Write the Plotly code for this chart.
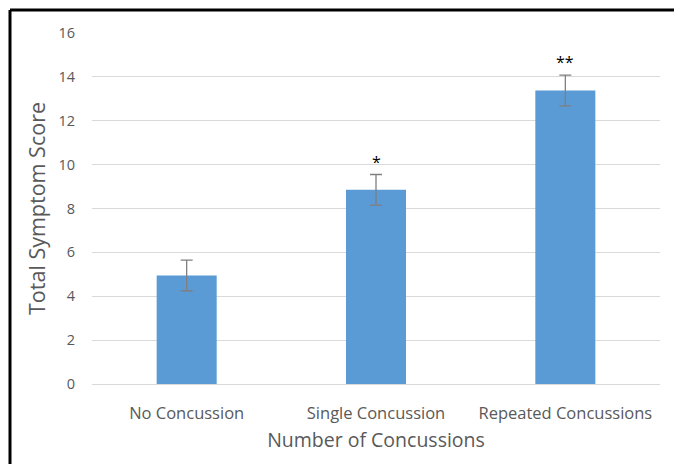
import plotly.graph_objects as go

categories = ["No Concussion", "Single Concussion", "Repeated Concussions"]
scores = [4.95, 8.85, 13.38]
errors = [0.7, 0.7, 0.7]
markers = ["", "*", "**"]
y_ticks = [0, 2, 4, 6, 8, 10, 12, 14, 16]

fig = go.Figure()
fig.add_trace(go.Bar(
    x=categories, y=scores,
    marker=dict(color="#5B9BD5", line=dict(width=0)),
    error_y=dict(type="data", array=errors, visible=True,
                 color="#7f7f7f", thickness=1.3, width=6),
    width=0.317,
))

for c, s, e, m in zip(categories, scores, errors, markers):
    if m:
        fig.add_annotation(x=c, y=s + e, text=m, showarrow=False,
                           yshift=13, font=dict(size=16, color="#000000", family="Open Sans, sans-serif"))

L, R, T, B = 92, 14, 33, 82
W, H = 674, 466
pw, ph = W - L - R, H - T - B

def px(x):
    return (x - L) / pw

def py(y):
    return (H - B - y) / ph

fig.add_shape(type="line", xref="paper", yref="paper",
              x0=px(10), x1=px(676), y0=py(10), y1=py(10),
              line=dict(color="black", width=3))
fig.add_shape(type="line", xref="paper", yref="paper",
              x0=px(10), x1=px(10), y0=py(10), y1=py(464),
              line=dict(color="black", width=3))

font_fam = "Open Sans, Segoe UI, sans-serif"
fig.update_layout(
    width=W, height=H,
    margin=dict(l=L, r=R, t=T, b=B),
    paper_bgcolor="white", plot_bgcolor="white",
    showlegend=False,
    font=dict(family=font_fam, color="#595959"),
    xaxis=dict(
        title=dict(text="Number of Concussions", font=dict(size=19.5, color="#595959"), standoff=10),
        tickfont=dict(size=16.5, color="#595959"),
        showgrid=False, showline=True, linecolor="#d9d9d9", linewidth=1,
        ticks="", ticklabelstandoff=14,
    ),
    yaxis=dict(
        title=dict(text="Total Symptom Score", font=dict(size=21.5, color="#595959"), standoff=6),
        range=[0, 16], tickvals=y_ticks,
        tickfont=dict(size=14.5, color="#595959"),
        showgrid=True, gridcolor="#d9d9d9", gridwidth=1,
        zeroline=False, showline=False, ticks="",
        ticklabelstandoff=16,
    ),
)

fig.write_html("out.html", config={"displayModeBar": False},
               post_script="document.body.style.margin='0';document.body.style.overflow='hidden';")
